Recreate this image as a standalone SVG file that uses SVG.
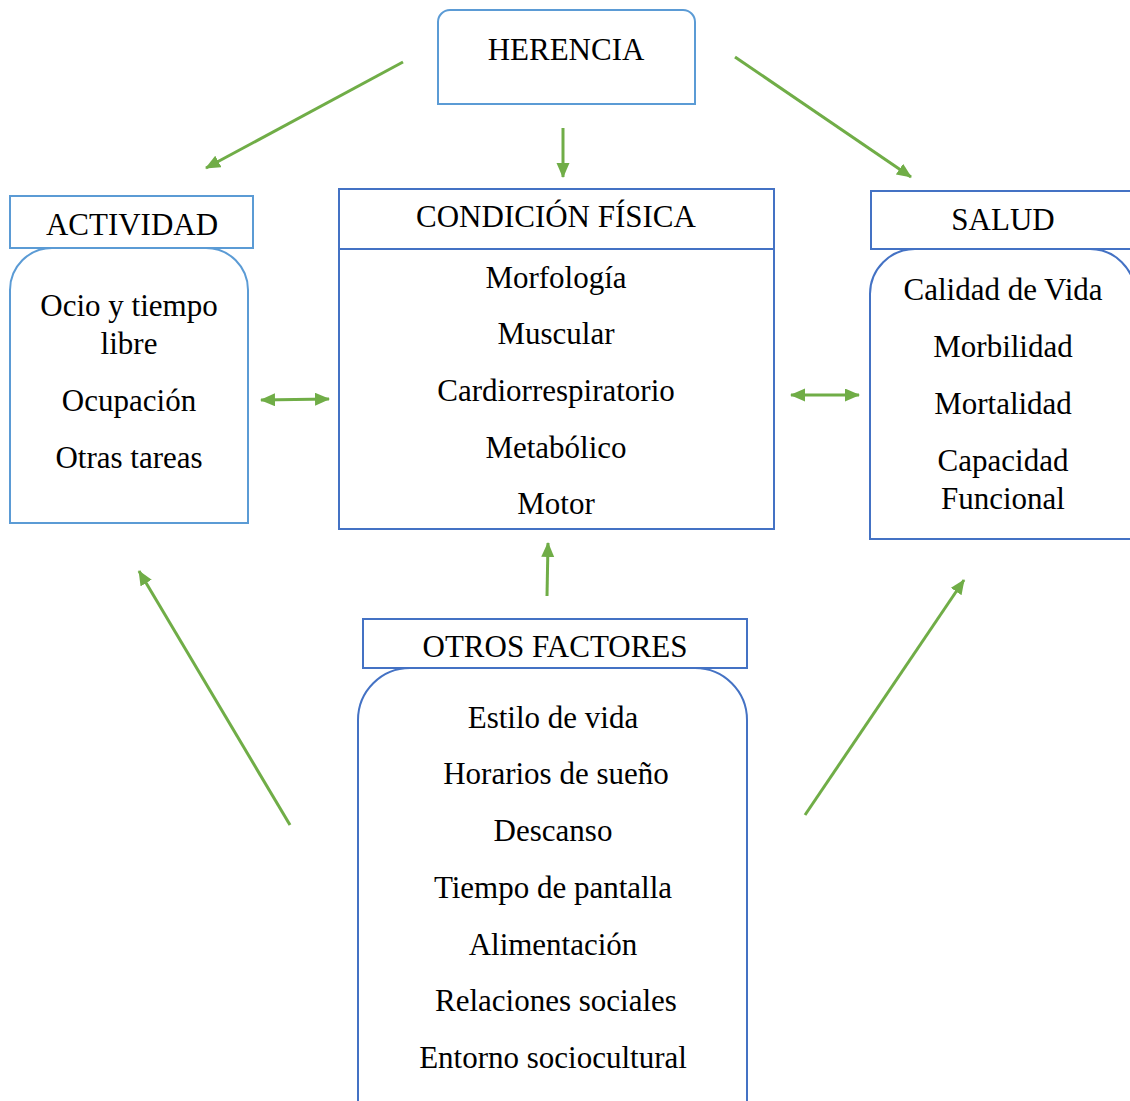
<svg xmlns="http://www.w3.org/2000/svg" width="1130" height="1101" viewBox="0 0 1130 1101">
<style>
text{font-family:"Liberation Serif","Times New Roman",serif;font-size:31px;fill:#000;text-anchor:middle}
.lb{fill:#fff;stroke:#5b9bd5;stroke-width:2}
.db{fill:#fff;stroke:#4472c4;stroke-width:2}
.arr{stroke:#70ad47;stroke-width:3;fill:none}
</style>
<defs>
<marker id="ah" markerUnits="userSpaceOnUse" markerWidth="16" markerHeight="14" refX="14" refY="6.5" orient="auto-start-reverse">
<path d="M0,0 L15,6.5 L0,13 z" fill="#70ad47"/>
</marker>
</defs>
<g id="herencia">
<path class="lb" d="M438,104 L438,22 A12,12 0 0 1 450,10 L683,10 A12,12 0 0 1 695,22 L695,104 Z"/>
<text x="566" y="60">HERENCIA</text>
</g>
<g id="actividad">
<path class="lb" d="M10,523 L10,290 A42,42 0 0 1 52,248 L206,248 A42,42 0 0 1 248,290 L248,523 Z"/>
<rect class="lb" x="10" y="196" width="243" height="52"/>
<text x="132" y="235">ACTIVIDAD</text>
<text x="129" y="316">Ocio y tiempo</text>
<text x="129" y="354">libre</text>
<text x="129" y="411">Ocupación</text>
<text x="129" y="468">Otras tareas</text>
</g>
<g id="condicion">
<rect class="db" x="339" y="249" width="435" height="280"/>
<rect class="db" x="339" y="189" width="435" height="60"/>
<text x="556" y="227">CONDICIÓN FÍSICA</text>
<text x="556" y="288">Morfología</text>
<text x="556" y="344">Muscular</text>
<text x="556" y="401">Cardiorrespiratorio</text>
<text x="556" y="458">Metabólico</text>
<text x="556" y="514">Motor</text>
</g>
<g id="salud">
<path class="db" d="M870,539 L870,294 A45,45 0 0 1 915,249 L1090,249 A45,45 0 0 1 1135,294 L1135,539 Z"/>
<rect class="db" x="871" y="191" width="270" height="58"/>
<text x="1003" y="230">SALUD</text>
<text x="1003" y="300">Calidad de Vida</text>
<text x="1003" y="357">Morbilidad</text>
<text x="1003" y="414">Mortalidad</text>
<text x="1003" y="471">Capacidad</text>
<text x="1003" y="509">Funcional</text>
</g>
<g id="otros">
<path class="db" d="M358,1110 L358,720 A52,52 0 0 1 410,668 L695,668 A52,52 0 0 1 747,720 L747,1110 Z"/>
<rect class="db" x="363" y="619" width="384" height="49"/>
<text x="555" y="657">OTROS FACTORES</text>
<text x="553" y="728">Estilo de vida</text>
<text x="556" y="784">Horarios de sueño</text>
<text x="553" y="841">Descanso</text>
<text x="553" y="898">Tiempo de pantalla</text>
<text x="553" y="955">Alimentación</text>
<text x="556" y="1011">Relaciones sociales</text>
<text x="553" y="1068">Entorno sociocultural</text>
</g>
<g id="connectors">
<line class="arr" x1="403" y1="62" x2="206" y2="168" marker-end="url(#ah)"/>
<line class="arr" x1="563" y1="128" x2="563" y2="177" marker-end="url(#ah)"/>
<line class="arr" x1="735" y1="57" x2="911" y2="177" marker-end="url(#ah)"/>
<line class="arr" x1="261" y1="400" x2="329" y2="399" marker-start="url(#ah)" marker-end="url(#ah)"/>
<line class="arr" x1="791" y1="395" x2="859" y2="395" marker-start="url(#ah)" marker-end="url(#ah)"/>
<line class="arr" x1="547" y1="596" x2="548" y2="543" marker-end="url(#ah)"/>
<line class="arr" x1="290" y1="825" x2="139" y2="571" marker-end="url(#ah)"/>
<line class="arr" x1="805" y1="815" x2="964" y2="580" marker-end="url(#ah)"/>
</g>
</svg>
